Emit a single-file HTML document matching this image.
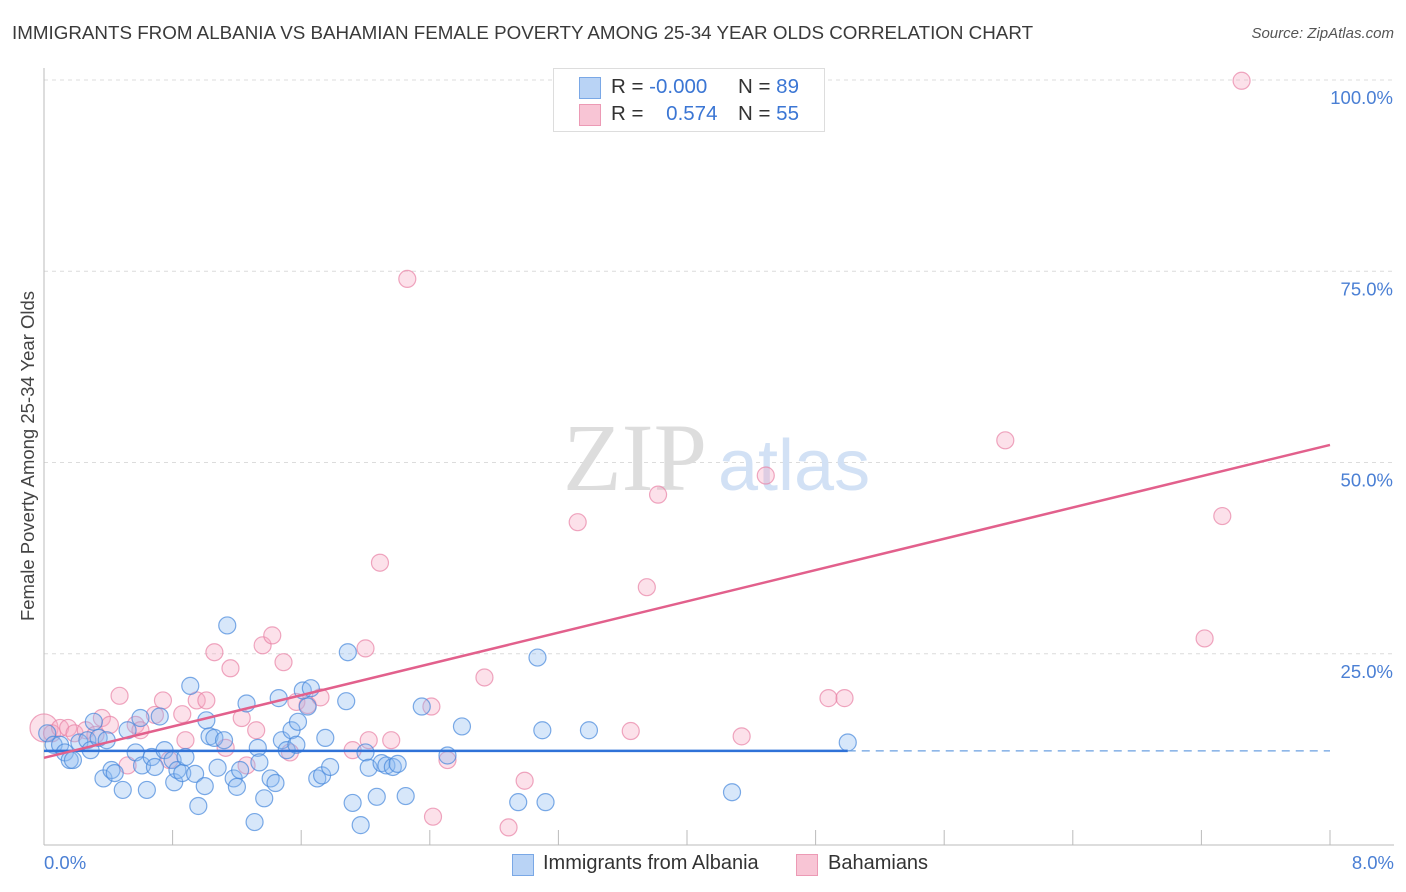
<!DOCTYPE html>
<html><head><meta charset="utf-8">
<style>
body{margin:0;background:#fff;font-family:"Liberation Sans",sans-serif;}
#wrap{position:relative;width:1406px;height:892px;overflow:hidden;}
.t{position:absolute;white-space:nowrap;}
</style></head>
<body>
<div id="wrap">
<div class="t" style="left:12px;top:22px;font-size:18.8px;color:#3a3a3a;">IMMIGRANTS FROM ALBANIA VS BAHAMIAN FEMALE POVERTY AMONG 25-34 YEAR OLDS CORRELATION CHART</div>
<div class="t" style="right:12px;top:25px;font-size:15px;color:#555;font-style:italic;">Source: ZipAtlas.com</div>
<svg id="chart" width="1406" height="892" style="position:absolute;left:0;top:0"></svg>
</div>
<script>
const xTicks=[0,0.8,1.6,2.4,3.2,4.0,4.8,5.6,6.4,7.2,8.0];
const yTicks=[25,50,75,100];
const yTickLabels=["25.0%","50.0%","75.0%","100.0%"];
const blueX=[0.02,0.06,0.10,0.13,0.16,0.18,0.22,0.27,0.29,0.31,0.34,0.37,0.39,0.42,0.44,0.49,0.52,0.57,0.60,0.61,0.64,0.67,0.69,0.72,0.75,0.80,0.81,0.83,0.86,0.91,0.88,0.94,0.96,1.00,1.01,1.03,1.06,1.08,1.12,1.14,1.18,1.20,1.22,1.26,1.31,1.33,1.34,1.37,1.41,1.44,1.46,1.48,1.51,1.54,1.57,1.58,1.61,1.64,1.66,1.70,1.73,1.75,1.78,1.88,1.89,1.92,1.97,2.00,2.02,2.07,2.10,2.13,2.17,2.20,2.25,2.35,2.51,2.60,2.95,3.07,3.10,3.12,3.39,4.28,5.00];
const blueY=[14.6,13.1,13.1,12.1,11.1,11.1,13.4,13.7,12.4,16.1,14.0,8.7,13.7,9.8,9.4,7.2,15.0,12.1,16.6,10.4,7.2,11.5,10.2,16.8,12.4,11.1,8.2,9.8,9.4,20.8,11.5,9.3,5.1,7.7,16.3,14.2,14.0,10.1,13.7,28.7,8.7,7.6,9.8,18.5,3.0,12.7,10.8,6.1,8.7,8.1,19.2,13.7,12.4,15.0,13.1,16.1,20.2,18.1,20.5,8.7,9.1,14.0,10.2,18.8,25.2,5.5,2.6,12.1,10.1,6.3,10.7,10.4,10.2,10.6,6.4,18.1,11.7,15.5,5.6,24.5,15.0,5.6,15.0,6.9,13.4];
const pinkX=[0.00,0.05,0.10,0.15,0.19,0.26,0.32,0.36,0.41,0.47,0.52,0.57,0.60,0.69,0.74,0.78,0.86,0.88,0.95,1.01,1.06,1.13,1.16,1.23,1.26,1.32,1.36,1.42,1.49,1.53,1.57,1.64,1.72,1.92,2.00,2.02,2.09,2.16,2.26,2.41,2.51,2.42,2.74,2.89,2.99,3.32,3.65,3.75,3.82,4.34,4.49,4.88,4.98,5.98,7.22,7.33,7.45];
const pinkY=[15.3,14.6,15.3,15.3,14.6,15.0,14.4,16.6,15.7,19.5,10.4,15.7,15.0,17.0,18.9,11.1,17.1,13.7,18.9,18.9,25.2,12.7,23.1,16.6,10.4,15.0,26.1,27.4,23.9,12.1,18.7,18.3,19.3,12.4,25.7,13.7,36.9,13.7,74.0,18.1,11.1,3.7,21.9,2.3,8.4,42.2,14.9,33.7,45.8,14.2,48.3,19.2,19.2,52.9,27.0,43.0,99.9];
const blueTrend=[12.3,12.3];
const pinkTrend=[11.4,52.3];
const blueSolidEnd=5.0;

const L=44,R=1330,T=80,B=845;
const sx=v=>L+(v/8)*(R-L);
const sy=v=>B-(v/100)*(B-T);
const svg=document.getElementById('chart');
const NS='http://www.w3.org/2000/svg';
function mk(tag,attrs,parent){const e=document.createElementNS(NS,tag);for(const k in attrs)e.setAttribute(k,attrs[k]);(parent||svg).appendChild(e);return e;}

yTicks.forEach((v,i)=>{
  const g=mk('line',{x1:L,x2:1394,y1:sy(v),y2:sy(v),stroke:'#dcdcdc','stroke-dasharray':'4,4'});
  
  
  const t=mk('text',{x:1393,y:sy(v)+24,'text-anchor':'end','font-size':18.5,fill:'#4a7fd4','font-family':'Liberation Sans, sans-serif'});
  t.textContent=yTickLabels[i];
  
  
});
const ya=mk('line',{x1:L,x2:L,y1:68,y2:B,stroke:'#bbb'});


const xa=mk('line',{x1:L,x2:1394,y1:B,y2:B,stroke:'#bbb'});


xTicks.forEach(v=>{
  const tk=mk('line',{x1:sx(v),x2:sx(v),y1:B,y2:B-15,stroke:'#bbb'});
  
  
});
const wm=mk('text',{x:635,y:490,'text-anchor':'middle','font-size':96,fill:'#ddd','font-family':'Liberation Serif, serif'});
wm.textContent='ZIP';


const wm2=mk('text',{x:718,y:490,'font-size':72,fill:'#d2e1f5','font-family':'Liberation Sans, sans-serif'});
wm2.textContent='atlas';



pinkX.forEach((x,i)=>{
  const c=mk('circle',{cx:sx(x),cy:sy(pinkY[i]),r:i===0?14:8.5,fill:'rgba(246,170,196,0.35)',stroke:'rgba(232,130,165,0.7)','stroke-width':1.2});
  
  
});
blueX.forEach((x,i)=>{
  const c=mk('circle',{cx:sx(x),cy:sy(blueY[i]),r:8.5,fill:'rgba(140,185,240,0.35)',stroke:'rgba(70,135,220,0.7)','stroke-width':1.2});
  
  
});
const bt=mk('line',{x1:sx(0),x2:sx(blueSolidEnd),y1:sy(blueTrend[0]),y2:sy(blueTrend[0]+(blueTrend[1]-blueTrend[0])*blueSolidEnd/8),stroke:'#2f72d8','stroke-width':2.5});


const bd=mk('line',{x1:sx(blueSolidEnd),x2:sx(8),y1:sy(blueTrend[0]+(blueTrend[1]-blueTrend[0])*blueSolidEnd/8),y2:sy(blueTrend[1]),stroke:'#6a9fe0','stroke-width':1.2,'stroke-dasharray':'8,6'});


const pt=mk('line',{x1:sx(0),x2:sx(8),y1:sy(pinkTrend[0]),y2:sy(pinkTrend[1]),stroke:'#e2608c','stroke-width':2.5});


</script>

<div class="t" style="left:28px;top:456px;font-size:18.5px;color:#444;transform:translate(-50%,-50%) rotate(-90deg);">Female Poverty Among 25-34 Year Olds</div>
<div class="t" style="left:44px;top:852px;font-size:18.5px;color:#4a7fd4;">0.0%</div>
<div class="t" style="right:12px;top:852px;font-size:18.5px;color:#4a7fd4;">8.0%</div>

<div style="position:absolute;left:553px;top:68px;width:270px;height:62px;border:1px solid #ddd;background:#fff;font-size:20.5px;color:#333;">
  <div style="position:absolute;left:25px;top:8px;width:20px;height:20px;background:#b9d3f5;border:1px solid #7aa8e6;"></div>
  <div class="t" style="left:57px;top:6px;">R = <span style="color:#3b76d4">-0.000</span></div>
  <div class="t" style="left:184px;top:6px;">N = <span style="color:#3b76d4">89</span></div>
  <div style="position:absolute;left:25px;top:35px;width:20px;height:20px;background:#f8c5d5;border:1px solid #ec9ab5;"></div>
  <div class="t" style="left:57px;top:33px;">R = <span style="color:#3b76d4;margin-left:17px">0.574</span></div>
  <div class="t" style="left:184px;top:33px;">N = <span style="color:#3b76d4">55</span></div>
</div>

<div>
  <div style="position:absolute;left:512px;top:854px;width:20px;height:20px;background:#b9d3f5;border:1px solid #7aa8e6;"></div>
  <div class="t" style="left:543px;top:852px;font-size:20px;color:#333;">Immigrants from Albania</div>
  <div style="position:absolute;left:796px;top:854px;width:20px;height:20px;background:#f8c5d5;border:1px solid #ec9ab5;"></div>
  <div class="t" style="left:828px;top:852px;font-size:20px;color:#333;">Bahamians</div>
</div>
</body></html>
